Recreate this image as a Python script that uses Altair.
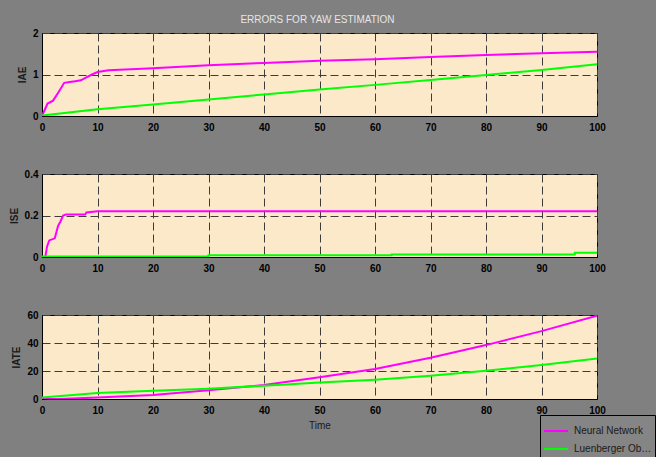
import altair as alt
import pandas as pd

SERIES = ["Neural Network", "Luenberger Observer"]
COLORS = ["#ff00ff", "#00ff00"]
FONT = "Liberation Sans, Arial, sans-serif"

# Time ticks shared by all three panels
time_ticks = list(range(0, 101, 10))

# Integral of absolute error
iae_nn_t = [0, 0.5, 1, 2, 3, 4, 5, 6, 7, 8, 9, 10, 12, 20, 30, 40, 50, 60, 70, 80, 90, 100]
iae_nn_v = [0, 0.15, 0.3, 0.37, 0.58, 0.8, 0.82, 0.84, 0.86, 0.93, 1.0, 1.06, 1.1, 1.15, 1.22,
            1.28, 1.33, 1.37, 1.42, 1.47, 1.51, 1.55]
iae_lo_t = [0, 10, 20, 30, 40, 50, 60, 70, 80, 90, 100]
iae_lo_v = [0.01, 0.16, 0.28, 0.40, 0.52, 0.64, 0.75, 0.87, 0.99, 1.11, 1.245]

# Integral of squared error
ise_nn_t = [0, 0.6, 0.9, 1.3, 2.3, 2.9, 3.3, 3.8, 4.3, 7.8, 8.0, 10, 100]
ise_nn_v = [0, 0, 0.05, 0.08, 0.09, 0.15, 0.17, 0.2, 0.205, 0.205, 0.215, 0.22, 0.22]
ise_lo_t = [0, 30, 30, 63, 63, 96, 96, 100]
ise_lo_v = [0.002, 0.002, 0.008, 0.008, 0.012, 0.012, 0.02, 0.02]

# Integral of time-weighted absolute error
iate_nn_t = [0, 3, 10, 20, 30, 40, 50, 60, 70, 80, 90, 100]
iate_nn_v = [0, 0, 1.0, 2.8, 6.2, 10.0, 15.5, 21.5, 29.5, 38.5, 48.5, 59.5]
iate_lo_t = [0, 10, 20, 30, 40, 50, 60, 70, 80, 90, 100]
iate_lo_v = [1.0, 4.2, 5.9, 7.4, 9.5, 11.7, 13.8, 16.6, 20.2, 24.3, 29.0]


def frame(nn_t, nn_v, lo_t, lo_v):
    a = pd.DataFrame({"t": nn_t, "v": nn_v, "series": SERIES[0], "k": range(len(nn_t))})
    b = pd.DataFrame({"t": lo_t, "v": lo_v, "series": SERIES[1], "k": range(len(lo_t))})
    return pd.concat([a, b], ignore_index=True)


legend = alt.Legend(
    title=None, orient="none", legendX=498, legendY=382,
    fillColor="#858585", strokeColor="#000000", padding=3,
    symbolType="stroke", symbolSize=576, symbolStrokeWidth=2,
    labelFont=FONT, labelFontSize=10, labelColor="#1a1a1a", labelOffset=5,
    labelLimit=81, rowPadding=0,
)


def panel(df, ytitle, ymax, yticks, fmt, height, xtitle=None, title=None):
    props = dict(width=555, height=height)
    if title is not None:
        props["title"] = title
    return alt.Chart(df).mark_line(strokeWidth=2, clip=True).encode(
        x=alt.X("t:Q", scale=alt.Scale(domain=[0, 100], nice=False),
                axis=alt.Axis(values=time_ticks, title=xtitle, labelFlush=False)),
        y=alt.Y("v:Q", scale=alt.Scale(domain=[0, ymax], nice=False),
                axis=alt.Axis(values=yticks, title=ytitle, format=fmt)),
        color=alt.Color("series:N", scale=alt.Scale(domain=SERIES, range=COLORS),
                        legend=legend),
        order="k:Q",
    ).properties(**props)


heading = alt.TitleParams("ERRORS FOR YAW ESTIMATION", color="#e6e6e6", fontSize=10,
                          fontWeight="normal", font=FONT, anchor="middle", frame="group",
                          offset=3, dx=-2)

p1 = panel(frame(iae_nn_t, iae_nn_v, iae_lo_t, iae_lo_v), "IAE", 2, [0, 1, 2], "~g", 83,
           title=heading)
p2 = panel(frame(ise_nn_t, ise_nn_v, ise_lo_t, ise_lo_v), "ISE", 0.4, [0, 0.2, 0.4], "~g", 83)
p3 = panel(frame(iate_nn_t, iate_nn_v, iate_lo_t, iate_lo_v), "IATE", 60, [0, 20, 40, 60], "d", 84,
           xtitle="Time")

chart = alt.vconcat(p1, p2, p3, spacing=58, bounds="flush").properties(
    background="#808080",
    padding={"left": 8, "top": 14, "right": 0, "bottom": 1},
).configure_view(
    fill="#fce9ca", stroke="#000000", strokeWidth=1,
).configure_axis(
    labelFont=FONT, labelFontSize=10, labelFontWeight="bold", labelColor="#000000",
    labelPadding=4, tickSize=0, domainColor="#000000", domainWidth=1,
    grid=True, gridColor="#3c3c3c", gridDash=[8, 4], gridWidth=1,
    titleFont=FONT, titleFontSize=10, titleFontWeight="bold", titleColor="#1a1a1a",
    titlePadding=5,
).configure_axisX(
    labelPadding=6, titleFontWeight="normal", titlePadding=5,
)

chart.save("out.html", embed_options={"renderer": "svg", "actions": False})
